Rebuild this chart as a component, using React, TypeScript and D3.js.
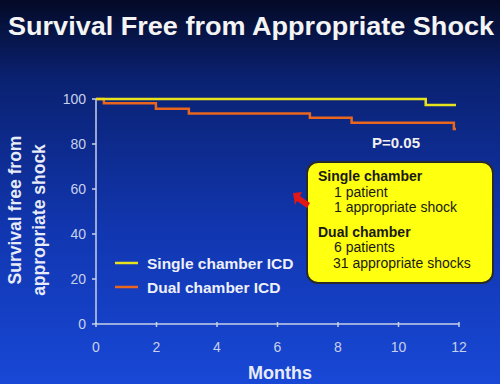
import React from 'react';
import * as d3 from 'd3';

// Kaplan-Meier style step data (month, % free from shock)
const singleMonths = [0, 10.9, 11.9];
const singleValues = [100, 97.3, 97.3];
const dualMonths = [0, 0.26, 1.98, 3.07, 7.07, 8.45, 11.83, 11.9];
const dualValues = [100, 98.1, 95.7, 93.6, 91.7, 89.5, 86.7, 86.7];

const xTicks = [0, 2, 4, 6, 8, 10, 12];
const yTicks = [0, 20, 40, 60, 80, 100];

const boxLines = [
  {text: 'Single chamber', bold: true},
  {text: '1 patient', bold: false},
  {text: '1 appropriate shock', bold: false},
  {text: 'Dual chamber', bold: true},
  {text: '6 patients', bold: false},
  {text: '31 appropriate shocks', bold: false}
];
const boxBaselines = [181, 197, 212, 237, 252, 268];

const W = 500;
const H = 384;
const font = '"Liberation Sans", Arial, sans-serif';

export default function App() {
  const x = d3.scaleLinear().domain([0, 12]).range([96, 459]);
  const y = d3.scaleLinear().domain([0, 100]).range([324, 99]);

  const line = d3.line<[number, number]>()
    .x(d => x(d[0]))
    .y(d => y(d[1]))
    .curve(d3.curveStepAfter);

  const single: [number, number][] = singleMonths.map((m, i) => [m, singleValues[i]]);
  const dual: [number, number][] = dualMonths.map((m, i) => [m, dualValues[i]]);

  const axisColor = '#c8d0ea';

  return (
    <svg width={W} height={H} style={{position: 'absolute', left: 0, top: 0, display: 'block'}}>
      <defs>
        <linearGradient id="bg" x1="0" y1="0" x2="0" y2="1">
          <stop offset="0" stopColor="#040a26" />
          <stop offset="0.2" stopColor="#0a2170" />
          <stop offset="0.6" stopColor="#1136b0" />
          <stop offset="1" stopColor="#1848d6" />
        </linearGradient>
      </defs>
      <rect width={W} height={H} fill="url(#bg)" />

      <text x={251} y={35} fill="#f4f4f4" fontFamily={font} fontWeight="bold" fontSize={26}
        textAnchor="middle" textLength={486} lengthAdjust="spacingAndGlyphs">
        Survival Free from Appropriate Shock
      </text>

      {/* y axis label */}
      <g fontFamily={font} fontWeight="bold" fontSize={17.5} fill="#e8ecf8" textAnchor="middle">
        <text transform="translate(21,210) rotate(-90)">Survival free from</text>
        <text transform="translate(45,220) rotate(-90)">appropriate shock</text>
      </g>

      {/* axes */}
      <line x1={x(0)} x2={x(0)} y1={y(0)} y2={y(100)} stroke={axisColor} strokeWidth={1.5} />
      <line x1={x(0)} x2={x(12)} y1={y(0)} y2={y(0)} stroke={axisColor} strokeWidth={1.5} />
      {yTicks.map(t => (
        <g key={'y' + t}>
          <line x1={x(0) - 4} x2={x(0)} y1={y(t)} y2={y(t)} stroke={axisColor} strokeWidth={1.5} />
          <text x={86} y={y(t) + 5} fill={axisColor} fontFamily={font} fontSize={14} textAnchor="end">{t}</text>
        </g>
      ))}
      {xTicks.map(t => (
        <g key={'x' + t}>
          <line x1={x(t)} x2={x(t)} y1={y(0) - 2} y2={y(0) + 3} stroke={axisColor} strokeWidth={1.5} />
          <text x={x(t)} y={352} fill={axisColor} fontFamily={font} fontSize={14} textAnchor="middle">{t}</text>
        </g>
      ))}
      <text x={280} y={379} fill="#e8ecf8" fontFamily={font} fontWeight="bold" fontSize={18} textAnchor="middle">Months</text>

      {/* curves */}
      <path d={line(dual) || ''} fill="none" stroke="#e8661e" strokeWidth={2.5} />
      <path d={line(single) || ''} fill="none" stroke="#e6e21e" strokeWidth={2.5} />

      <text x={396} y={148} fill="#f0f0f0" fontFamily={font} fontWeight="bold" fontSize={15} textAnchor="middle">P=0.05</text>

      {/* legend */}
      <line x1={115} x2={138} y1={263} y2={263} stroke="#e6e21e" strokeWidth={2.5} />
      <text x={147} y={269} fill="#eef0f8" fontFamily={font} fontWeight="bold" fontSize={15.5}>Single chamber ICD</text>
      <line x1={115} x2={138} y1={287} y2={287} stroke="#e8661e" strokeWidth={2.5} />
      <text x={147} y={293} fill="#eef0f8" fontFamily={font} fontWeight="bold" fontSize={15.5}>Dual chamber ICD</text>

      {/* callout */}
      <rect x={307} y={162} width={186} height={121} rx={11} ry={11} fill="#ffff10" stroke="#2a2a2a" strokeWidth={2} />
      <polygon points="293,193 302,192 300,196 310,203 307,208 297,201 295,205" fill="#e01818" />
      {boxLines.map((l, i) => (
        <text key={i} x={l.bold ? 318 : (l.text.startsWith('31') ? 333 : 334)} y={boxBaselines[i]}
          fill="#1a1a10" fontFamily={font} fontWeight={l.bold ? 'bold' : 'normal'} fontSize={14}>
          {l.text}
        </text>
      ))}
    </svg>
  );
}
